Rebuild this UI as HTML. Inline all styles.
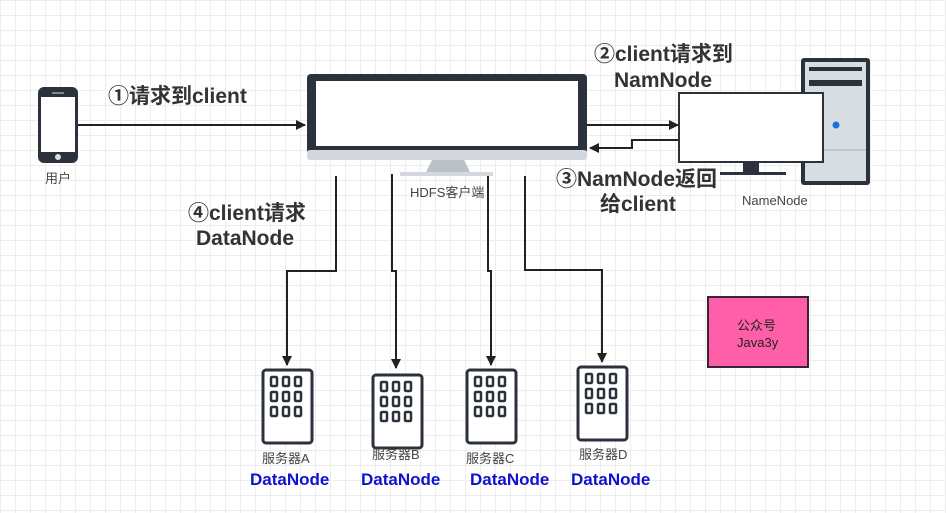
<!DOCTYPE html>
<html><head><meta charset="utf-8"><style>
body{margin:0}
.c{position:relative;width:946px;height:513px;overflow:hidden;background-color:#fff;
background-image:linear-gradient(#ededed 1px,transparent 1px),linear-gradient(90deg,#ededed 1px,transparent 1px);background-size:15px 15px;
font-family:"Liberation Sans","Noto Sans CJK SC",sans-serif;}
.t{position:absolute;white-space:nowrap;color:#333;line-height:24px}
.b{font-weight:bold;font-size:21px;color:#333}
.s{font-size:13px;color:#444;line-height:16px}
.d{font-weight:bold;font-size:17px;color:#1010d0;line-height:20px}
</style></head><body><div class="c">
<svg width="946" height="513" style="position:absolute;left:0;top:0">
<defs><marker id="a" markerWidth="10" markerHeight="10" refX="9" refY="5" orient="auto" markerUnits="userSpaceOnUse"><path d="M0,0 L10,5 L0,10 z" fill="#222"/></marker></defs>
<rect x="38" y="87" width="40" height="76" rx="6" fill="#2b323b"/>
<rect x="41" y="97" width="34" height="55" fill="#fff"/>
<rect x="52" y="92" width="12" height="2" fill="#888"/>
<circle cx="58" cy="157" r="3" fill="#ddd"/>
<rect x="307" y="74" width="280" height="80" rx="4" fill="#2b323b"/>
<rect x="316" y="81" width="262" height="65" fill="#fff"/>
<rect x="307" y="150" width="280" height="10" rx="3" fill="#d2d8dd"/>
<path d="M432,160 L464,160 L470,172 L426,172 z" fill="#b9c2c9"/>
<rect x="400" y="172" width="93" height="4" fill="#d2d8dd"/>
<rect x="801" y="58" width="69" height="127" rx="3" fill="#2b323b"/>
<rect x="805" y="62" width="61" height="119" fill="#d7dde2"/>
<rect x="809" y="67" width="53" height="4" fill="#2b323b"/>
<rect x="809" y="80" width="53" height="6" fill="#2b323b"/>
<line x1="805" y1="150" x2="866" y2="150" stroke="#aab" />
<circle cx="836" cy="125" r="3.5" fill="#1a6fd8"/>
<rect x="678" y="92" width="146" height="71" fill="#2b323b"/>
<rect x="680" y="94" width="142" height="67" fill="#fff"/>
<rect x="743" y="163" width="16" height="9" fill="#2b323b"/>
<rect x="720" y="172" width="66" height="3" fill="#2b323b"/>
<g stroke="#222" stroke-width="2" fill="none" marker-end="url(#a)">
<line x1="78" y1="125" x2="305" y2="125"/>
<line x1="587" y1="125" x2="678" y2="125"/>
<polyline points="678,140 632,140 632,148 590,148"/>
<polyline points="336,176 336,271 287,271 287,365"/>
<polyline points="392,174 392,271 396,271 396,368"/>
<polyline points="488,176 488,271 491,271 491,365"/>
<polyline points="525,176 525,270 602,270 602,362"/>
</g>
<g id="srv">
<rect x="263" y="370" width="49" height="73" rx="3" fill="#fff" stroke="#2b323b" stroke-width="3"/>
<g fill="none" stroke="#2b323b" stroke-width="2.5">
<rect x="271" y="377" width="6" height="9" rx="1"/><rect x="283" y="377" width="6" height="9" rx="1"/><rect x="295" y="377" width="6" height="9" rx="1"/>
<rect x="271" y="392" width="6" height="9" rx="1"/><rect x="283" y="392" width="6" height="9" rx="1"/><rect x="295" y="392" width="6" height="9" rx="1"/>
<rect x="271" y="407" width="6" height="9" rx="1"/><rect x="283" y="407" width="6" height="9" rx="1"/><rect x="295" y="407" width="6" height="9" rx="1"/>
</g></g>
<use href="#srv" x="110" y="5"/>
<use href="#srv" x="204" y="0"/>
<use href="#srv" x="315" y="-3"/>
<rect x="708" y="297" width="100" height="70" fill="#ff5fa8" stroke="#3a2233" stroke-width="2"/>
</svg>
<div class="t s" style="left:45px;top:171px">用户</div>
<div class="t b" style="left:108px;top:85px">①请求到client</div>
<div class="t s" style="left:410px;top:185px">HDFS客户端</div>
<div class="t b" style="left:594px;top:43px">②client请求到</div>
<div class="t b" style="left:614px;top:69px">NamNode</div>
<div class="t b" style="left:556px;top:168px">③NamNode返回</div>
<div class="t b" style="left:600px;top:193px">给client</div>
<div class="t s" style="left:742px;top:193px">NameNode</div>
<div class="t b" style="left:188px;top:202px">④client请求</div>
<div class="t b" style="left:196px;top:227px">DataNode</div>
<div class="t s" style="left:737px;top:318px;color:#222">公众号</div>
<div class="t s" style="left:737px;top:335px;color:#222">Java3y</div>
<div class="t s" style="left:262px;top:451px">服务器A</div>
<div class="t s" style="left:372px;top:447px">服务器B</div>
<div class="t s" style="left:466px;top:451px">服务器C</div>
<div class="t s" style="left:579px;top:447px">服务器D</div>
<div class="t d" style="left:250px;top:470px">DataNode</div>
<div class="t d" style="left:361px;top:470px">DataNode</div>
<div class="t d" style="left:470px;top:470px">DataNode</div>
<div class="t d" style="left:571px;top:470px">DataNode</div>
</div></body></html>
